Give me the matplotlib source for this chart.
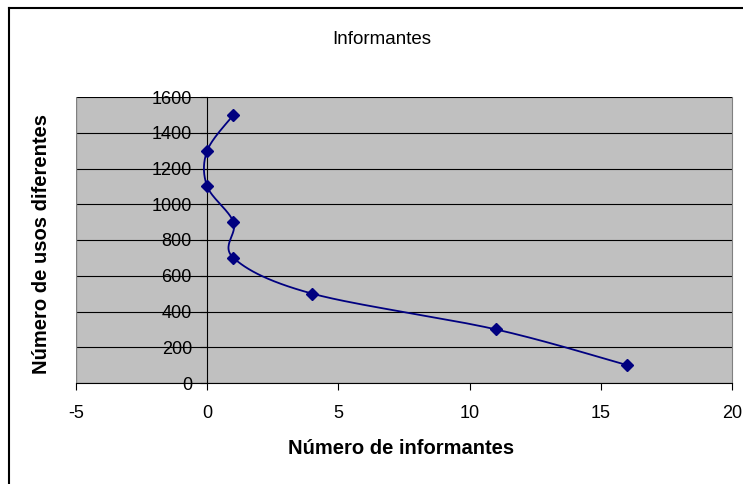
import numpy as np
import matplotlib
matplotlib.use("Agg")
import matplotlib.pyplot as plt
from matplotlib.lines import Line2D

informantes = [1, 0, 0, 1, 1, 4, 11, 16]
usos = [1500, 1300, 1100, 900, 700, 500, 300, 100]
x_ticks = [-5, 0, 5, 10, 15, 20]
y_ticks = [0, 200, 400, 600, 800, 1000, 1200, 1400, 1600]


def smooth(xs, ys, n=30):
    # Excel-like smoothed line: cubic Bezier with Catmull-Rom control points
    p = np.column_stack([xs, ys]).astype(float)
    p = np.vstack([p[0], p, p[-1]])
    out = []
    t = np.linspace(0, 1, n)[:, None]
    for i in range(1, len(p) - 2):
        p0, p1, p2, p3 = p[i - 1], p[i], p[i + 1], p[i + 2]
        c1 = p1 + (p2 - p0) / 6
        c2 = p2 - (p3 - p1) / 6
        seg = ((1 - t) ** 3) * p1 + 3 * ((1 - t) ** 2) * t * c1 + 3 * (1 - t) * t ** 2 * c2 + t ** 3 * p2
        out.append(seg)
    out = np.vstack(out)
    return out[:, 0], out[:, 1]


plt.rcParams["font.family"] = ["Liberation Sans", "DejaVu Sans"]
plt.rcParams["axes.unicode_minus"] = False

fig = plt.figure(figsize=(7.43, 4.84), dpi=100)
ax = fig.add_axes([76 / 743, 1 - 383 / 484, 656 / 743, 286 / 484])
ax.set_facecolor("#c0c0c0")

sx, sy = smooth(informantes, usos)
ax.plot(sx, sy, color="#000080", linewidth=1.3, zorder=3)
ax.plot(informantes, usos, linestyle="none", marker="D", markersize=6.5,
        color="#000080", zorder=4)

ax.set_xlim(-5, 20)
ax.set_ylim(0, 1600)
ax.set_xticks(x_ticks)
ax.set_yticks(y_ticks)
ax.yaxis.grid(True, color="black", linewidth=0.8)
ax.set_axisbelow(True)

ax.spines["left"].set_position(("data", 0))
ax.spines["left"].set_color("black")
ax.spines["left"].set_linewidth(0.8)
ax.spines["bottom"].set_color("black")
ax.spines["bottom"].set_linewidth(0.8)
ax.spines["top"].set_visible(False)
ax.spines["right"].set_color("#808080")
ax.add_line(Line2D([0, 0], [0, 1], transform=ax.transAxes, color="#808080", linewidth=1))

ax.tick_params(axis="both", direction="out", length=5, width=0.8, labelsize=13)
ax.tick_params(axis="x", pad=11)
ax.tick_params(axis="y", pad=6)

fig.text(401 / 743, 1 - 449 / 484, "Número de informantes", fontsize=14.5,
         fontweight="bold", ha="center", va="center")
fig.text(42 / 743, 1 - 244 / 484, "Número de usos diferentes", rotation=90,
         fontsize=14.5, fontweight="bold", ha="center", va="center")
fig.text(382 / 743, 1 - 40 / 484, "Informantes", fontsize=13.5, ha="center", va="center")

# outer chart border
fig.add_artist(Line2D([9 / 743, 9 / 743], [0, 1 - 8 / 484], transform=fig.transFigure,
                      color="black", linewidth=1.5))
fig.add_artist(Line2D([9 / 743, 1], [1 - 8 / 484, 1 - 8 / 484], transform=fig.transFigure,
                      color="black", linewidth=1.5))

fig.savefig("out.png", dpi=100)
